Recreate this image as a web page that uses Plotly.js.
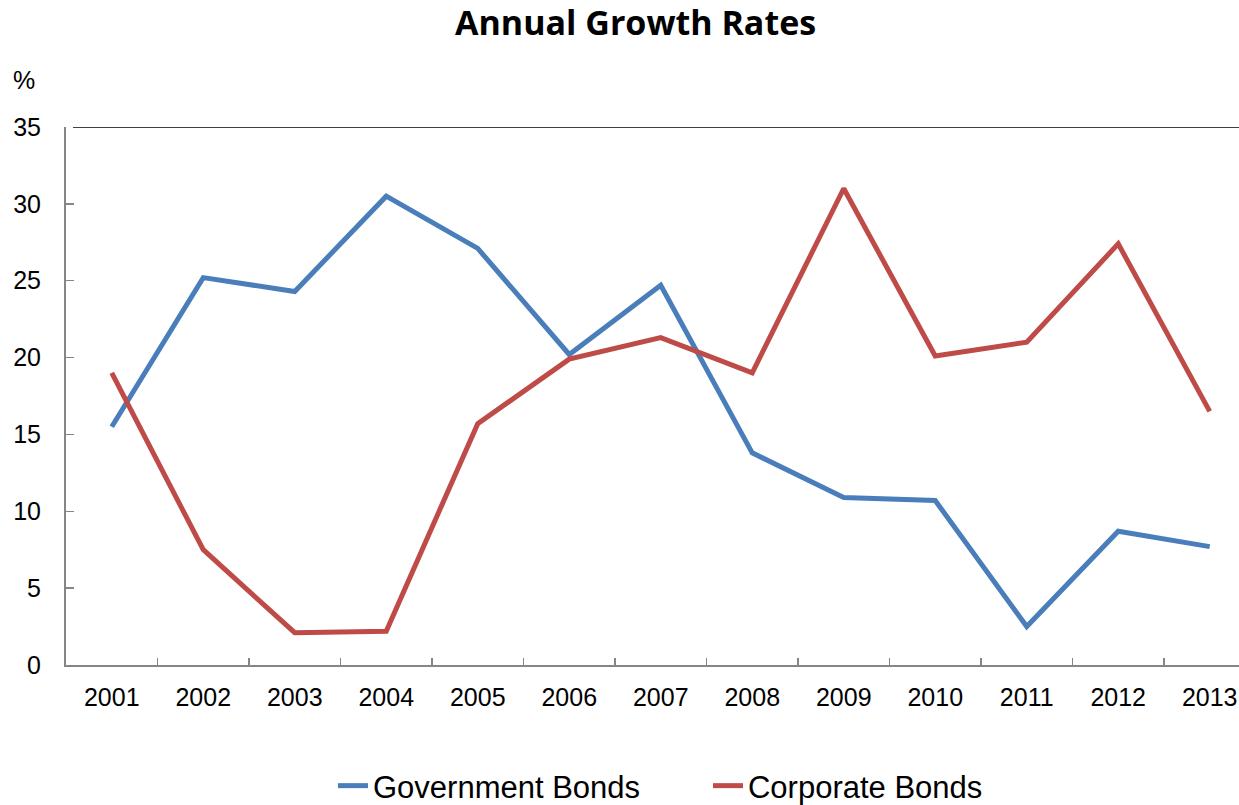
<!DOCTYPE html>
<html>
<head>
<meta charset="utf-8">
<script src="https://cdn.plot.ly/plotly-3.0.1.min.js"></script>
<style>html,body{margin:0;padding:0;background:#fff;}#chart{width:1239px;height:805px;}</style>
</head>
<body>
<div id="chart"></div>
<script>
const years = ['2001','2002','2003','2004','2005','2006','2007','2008','2009','2010','2011','2012','2013'];
const governmentBonds = [15.5, 25.2, 24.3, 30.5, 27.1, 20.2, 24.7, 13.8, 10.9, 10.7, 2.5, 8.7, 7.7];
const corporateBonds = [19.0, 7.5, 2.1, 2.2, 15.7, 19.9, 21.3, 19.0, 31.0, 20.1, 21.0, 27.4, 16.5];
const yTicks = [0, 5, 10, 15, 20, 25, 30, 35];

const armFont = 'Liberation Sans, Arial, sans-serif';

const traces = [
  {x: years, y: governmentBonds, name: 'Government Bonds', type: 'scatter', mode: 'lines',
   line: {color: '#4A7EBB', width: 5}},
  {x: years, y: corporateBonds, name: 'Corporate Bonds', type: 'scatter', mode: 'lines',
   line: {color: '#BE4B48', width: 5}}
];

const layout = {
  width: 1239, height: 805,
  margin: {l: 66, r: 0, t: 127, b: 140, autoexpand: false},
  paper_bgcolor: '#ffffff', plot_bgcolor: '#ffffff',
  title: {text: '<b>Annual Growth Rates</b>', font: {family: 'Open Sans, sans-serif', size: 34, color: '#000'},
          x: 0.513, xanchor: 'center', y: 1 - 23/805, yref: 'container', yanchor: 'middle'},
  xaxis: {type: 'category', range: [-0.5, 12.32], showgrid: false, zeroline: false,
          showline: true, linecolor: '#868686', linewidth: 2,
          ticks: 'inside', ticklen: 7, tickcolor: '#868686', tickwidth: 1.5,
          tickson: 'boundaries', ticklabelstandoff: 9,
          tickfont: {family: armFont, size: 25, color: '#000'}},
  yaxis: {range: [0, 35], tickvals: yTicks, showgrid: false, zeroline: false,
          showline: true, linecolor: '#868686', linewidth: 2,
          ticks: 'inside', ticklen: 8, tickcolor: '#868686', tickwidth: 1.5,
          ticklabelstandoff: 18,
          tickfont: {family: armFont, size: 25, color: '#000'}},
  shapes: [{type: 'line', xref: 'paper', yref: 'y', x0: 0.006, x1: 1, y0: 35, y1: 35,
            line: {color: '#000', width: 1.5}}],
  annotations: [{text: '%', xref: 'paper', yref: 'paper', x: -0.036, y: 1 + 47/538,
                 xanchor: 'center', yanchor: 'middle', showarrow: false,
                 font: {family: armFont, size: 25, color: '#000'}}],
  showlegend: true,
  legend: {orientation: 'h', xref: 'paper', x: 0.5473, xanchor: 'center', y: -121/538, yanchor: 'middle',
           font: {family: armFont, size: 31, color: '#000'}, bgcolor: 'rgba(0,0,0,0)',
           entrywidth: 330, entrywidthmode: 'pixels'}
};

Plotly.newPlot('chart', traces, layout, {displayModeBar: false, staticPlot: true});
</script>
</body>
</html>
